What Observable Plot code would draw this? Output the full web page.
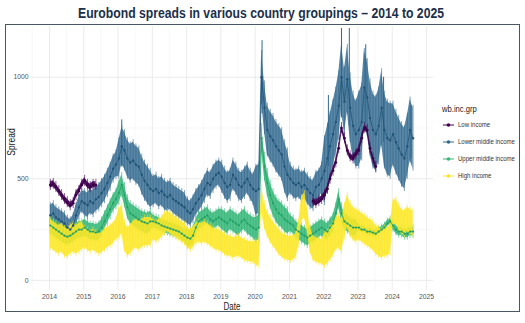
<!DOCTYPE html>
<html><head><meta charset="utf-8">
<script src="https://cdn.jsdelivr.net/npm/d3@7"></script>
<script src="https://cdn.jsdelivr.net/npm/@observablehq/plot@0.6"></script>
<style>
body{margin:0;background:#fff;}
#wrap{position:relative;width:525px;height:323px;overflow:hidden;font-family:"Liberation Sans",Arial,sans-serif;}
#title{position:absolute;left:261px;top:5px;font-weight:bold;font-size:14px;color:#1c2f4a;white-space:nowrap;transform-origin:0 0}
#frame{position:absolute;left:5px;top:24px;width:515px;height:288px;border:1.5px solid #485766;box-sizing:border-box;pointer-events:none}
#chart{position:absolute;left:0;top:0}
.lab{position:absolute;color:#222;font-size:10px;white-space:nowrap}
#legend{position:absolute;left:442px;top:102px;font-size:7px;color:#333;white-space:nowrap}
#legend .t{font-size:9px;color:#222;height:14px;line-height:14px;transform:scaleX(.85);transform-origin:0 50%}
#legend .row{height:17px;display:flex;align-items:center}
#legend .row span{display:inline-block;transform:scaleX(.86);transform-origin:0 50%}
#legend svg{margin-right:3px}
</style></head>
<body>
<div id="wrap">
  <div id="title">Eurobond spreads in various country groupings – 2014 to 2025</div>
  <div id="chart"></div>
  <div class="lab" style="left:232px;top:306px;transform:translate(-50%,-50%) scaleX(.8)">Date</div>
  <div class="lab" style="left:11px;top:142px;transform:translate(-50%,-50%) rotate(-90deg) scaleX(.85)">Spread</div>
  <div id="legend"></div>
  <div id="frame"></div>
</div>
<script>
// ---- data (monthly readings, spread in bps) ----
const groups = ["Low income", "Lower middle income", "Upper middle income", "High income"];
const colors = ["#440154", "#31688E", "#35B779", "#FDE725"];
const legendTitle = "wb.inc.grp";

// Lower middle income: Jan 2014 – Aug 2024
const lmiMid = [
  320,330,310,300,290,280,260,250,270,320,360,390,
  380,370,390,380,400,410,430,450,480,510,550,570,
  600,660,640,600,580,590,570,560,520,490,470,450,
  440,450,430,440,420,410,420,400,390,380,370,360,
  340,330,350,380,400,420,450,480,470,500,520,530,
  510,480,460,470,520,500,470,460,480,500,470,450,
  440,450,1000,850,740,710,690,660,640,620,560,520,
  500,480,470,480,460,470,450,430,420,460,470,500,
  540,600,660,720,780,860,1000,880,990,850,760,720,
  740,780,950,900,800,740,720,760,850,740,700,690,
  720,680,650,620,600,660,740,700];
const lmiHalf = [50,60,90,70,60,70,120,70,160,180,150]; // per year 2014..2024

// Upper middle income: Jan 2014 – Aug 2024
const umiMid = [
  270,260,250,240,230,220,215,220,230,240,250,250,
  260,250,240,240,235,240,260,290,320,350,380,400,
  430,470,420,360,330,320,310,300,290,285,280,290,
  290,285,280,270,265,260,255,250,245,240,230,220,
  210,205,220,260,290,300,310,320,300,290,300,310,
  300,290,280,300,290,280,270,290,300,280,270,260,
  250,260,700,560,480,420,380,350,330,320,300,290,
  280,270,250,240,230,220,210,220,230,240,250,260,
  250,240,260,280,330,400,330,290,280,270,260,260,
  260,250,250,240,240,235,230,240,250,260,280,290,
  270,250,240,240,230,230,240,240];
const umiHalf = [40,40,50,30,40,50,60,40,40,15,20];

// High income: Jan 2014 – Aug 2024
const hiMid = [
  230,220,210,200,210,190,185,200,210,200,210,220,
  210,200,190,200,190,180,185,200,210,220,230,250,
  280,300,220,190,200,220,230,220,230,240,240,240,
  250,240,250,260,280,290,280,270,260,250,240,230,
  210,200,210,230,240,230,240,230,220,210,200,200,
  190,180,170,170,160,165,170,160,150,145,140,140,
  135,130,400,320,280,250,230,210,190,175,165,160,
  155,160,170,230,350,370,300,200,160,150,145,140,
  150,160,180,200,230,240,220,290,340,300,280,270,
  270,260,250,240,230,220,200,190,180,190,190,200,
  330,340,310,290,280,300,290,280];
const hiHalf = [70,50,70,50,50,50,60,60,80,70,60];

// Low income: two stretches
const liMidA = [470,475,460,440,420,400,385,370,380,420,440,470,490,470,460,470,470]; // Jan 2014 – May 2015
const liMidB = [390,380,390,400,420,450,500,540,580,650,750,700,640,610,600,620,640,700,750,740,650,600,560]; // Sep 2021 – Jul 2023
const liHalf = 15;

// tall single error bars (Lower middle income)
const spikeDates = ["2016-02-10","2020-03-15","2022-02-20","2022-07-10","2022-10-01","2023-03-25","2023-10-01","2024-07-20"];
const spikeLow   = [560, 820, 560, 800, 760, 760, 680, 600];
const spikeHigh  = [790, 1180, 910, 1240, 1240, 1160, 1000, 860];

const yTicks = [0, 500, 1000];
const yMinor = [250, 750];
const xYears = d3.range(2014, 2026);

// ---- build rows ----
function build(grp, y0, m0, mids, half, seg) {
  return mids.map((v, i) => {
    const date = new Date(Date.UTC(y0, m0 - 1 + i, 10));
    const hw = Array.isArray(half) ? half[date.getUTCFullYear() - 2014] : half;
    return {grp, seg: grp + (seg || ""), date, mid: v, lo: v - hw, hi: v + hw};
  });
}
const lmi = build(groups[1], 2014, 1, lmiMid, lmiHalf);
const umi = build(groups[2], 2014, 1, umiMid, umiHalf);
const hi  = build(groups[3], 2014, 1, hiMid, hiHalf);
const li  = build(groups[0], 2014, 1, liMidA, liHalf, "A").concat(build(groups[0], 2021, 9, liMidB, liHalf, "B"));
const spikes = spikeDates.map((d, i) => ({date: new Date(d), lo: spikeLow[i], hi: spikeHigh[i]}));
const colorOf = Object.fromEntries(groups.map((g, i) => [g, colors[i]]));
const dark = {"Low income": "#3a0148", "Lower middle income": "#1f5476", "Upper middle income": "#22a064", "High income": "#e8d21c"};

const yearDates = xYears.map(y => new Date(Date.UTC(y, 0, 1)));
const halfDates = d3.range(2013, 2025).map(y => new Date(Date.UTC(y, 6, 1)));

function band(rows, op) {
  const c = colorOf[rows[0].grp];
  return [
    Plot.areaY(rows, {x: "date", y1: "lo", y2: "hi", z: "seg", fill: c, fillOpacity: op, curve: "linear"}),
    Plot.ruleX(rows, {x: "date", y1: d => d.lo - 12, y2: d => d.hi + 12, stroke: c, strokeWidth: 0.7, strokeOpacity: 0.9})
  ];
}
function centre(rows, r) {
  const c = dark[rows[0].grp];
  return [
    Plot.line(rows, {x: "date", y: "mid", z: "seg", stroke: c, strokeWidth: 0.8}),
    Plot.dot(rows, {x: "date", y: "mid", fill: c, r: r, stroke: "none"})
  ];
}

const chart = Plot.plot({
  width: 440, height: 310,
  marginLeft: 31, marginRight: 7, marginTop: 26, marginBottom: 20,
  style: {background: "transparent", fontFamily: "'Liberation Sans',Arial,sans-serif", fontSize: "6.8px", color: "#555"},
  x: {type: "utc", domain: [new Date(Date.UTC(2013, 5, 23)), new Date(Date.UTC(2025, 2, 16))]},
  y: {domain: [-50, 1250]},
  marks: [
    Plot.ruleX(halfDates, {stroke: "#f3f3f3", strokeWidth: 0.6}),
    Plot.ruleY(yMinor, {stroke: "#f3f3f3", strokeWidth: 0.6}),
    Plot.ruleX(yearDates, {stroke: "#e9e9e9", strokeWidth: 0.9}),
    Plot.ruleY(yTicks, {stroke: "#e9e9e9", strokeWidth: 0.9}),
    ...band(lmi, 0.8),
    Plot.ruleX(spikes, {x: "date", y1: "lo", y2: "hi", stroke: colors[1], strokeWidth: 1}),
    ...band(umi, 0.85),
    ...band(hi, 0.85),
    ...band(li, 0.9),
    ...centre(lmi, 1.2),
    ...centre(umi, 1.1),
    ...centre(li, 1.4),
    Plot.axisX(yearDates, {tickFormat: d3.utcFormat("%Y"), tickSize: 0, tickPadding: 4, label: null}),
    Plot.axisY(yTicks, {tickFormat: d => String(d), tickSize: 0, tickPadding: 3, label: null})
  ]
});
document.getElementById("chart").appendChild(chart);

// title fitted to the reference width
const t = document.getElementById("title");
const tw = t.getBoundingClientRect().width;
const s = 366 / tw;
t.style.transform = `scaleX(${s}) translateX(-50%)`;

// legend
const lg = document.getElementById("legend");
lg.innerHTML = `<div class="t">${legendTitle}</div>` + groups.map((g, i) =>
  `<div class="row"><svg width="13" height="8"><line x1="1" x2="12" y1="4" y2="4" stroke="${colors[i]}" stroke-width="1"/><circle cx="6.5" cy="4" r="1.8" fill="${colors[i]}"/></svg><span>${g}</span></div>`
).join("");
</script>
</body></html>
